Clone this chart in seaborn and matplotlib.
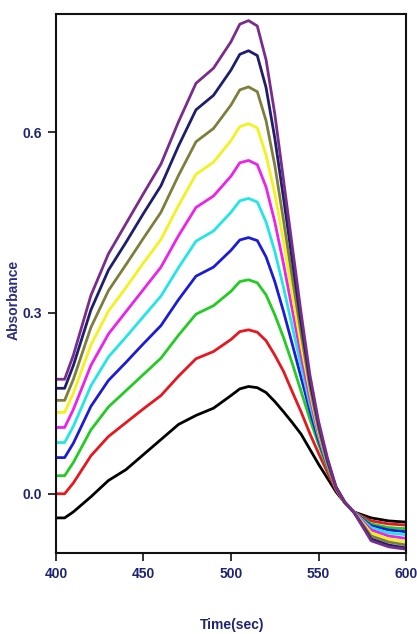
import numpy as np
import pandas as pd
import matplotlib
matplotlib.use("Agg")
import matplotlib.pyplot as plt
import seaborn as sns

time = [400, 405, 410, 420, 430, 440, 450, 460, 470, 480, 490, 500, 505, 510, 515,
        520, 525, 530, 535, 540, 545, 550, 555, 560, 565, 570, 580, 590, 600]

black = [-0.04, -0.04, -0.03, -0.005, 0.022, 0.04, 0.065, 0.09, 0.115, 0.13, 0.142, 0.163, 0.174, 0.178, 0.176,
         0.168, 0.153, 0.136, 0.118, 0.099, 0.074, 0.049, 0.026, 0.003, -0.015, -0.03, -0.04, -0.045, -0.047]
red = [0.0, 0.0, 0.018, 0.063, 0.095, 0.118, 0.141, 0.163, 0.195, 0.224, 0.236, 0.256, 0.269, 0.272, 0.268,
       0.254, 0.230, 0.203, 0.169, 0.136, 0.100, 0.067, 0.036, 0.006, -0.015, -0.03, -0.045, -0.05, -0.052]
green = [0.03, 0.03, 0.052, 0.106, 0.144, 0.171, 0.198, 0.225, 0.263, 0.298, 0.312, 0.336, 0.352, 0.355, 0.350,
         0.330, 0.297, 0.259, 0.216, 0.170, 0.124, 0.082, 0.043, 0.009, -0.015, -0.03, -0.05, -0.056, -0.058]
blue = [0.06, 0.06, 0.084, 0.145, 0.188, 0.218, 0.249, 0.279, 0.322, 0.361, 0.376, 0.404, 0.421, 0.425, 0.420,
        0.393, 0.352, 0.302, 0.248, 0.193, 0.138, 0.088, 0.047, 0.011, -0.014, -0.03, -0.053, -0.06, -0.063]
cyan = [0.085, 0.085, 0.112, 0.179, 0.227, 0.260, 0.294, 0.328, 0.375, 0.419, 0.436, 0.467, 0.486, 0.49, 0.484,
        0.451, 0.402, 0.342, 0.277, 0.212, 0.149, 0.095, 0.048, 0.009, -0.014, -0.03, -0.056, -0.065, -0.068]
magenta = [0.11, 0.11, 0.140, 0.213, 0.265, 0.302, 0.339, 0.376, 0.428, 0.475, 0.494, 0.527, 0.549, 0.553, 0.546,
           0.509, 0.451, 0.381, 0.305, 0.229, 0.159, 0.098, 0.049, 0.008, -0.015, -0.03, -0.06, -0.07, -0.074]
yellow = [0.135, 0.135, 0.167, 0.247, 0.303, 0.342, 0.383, 0.422, 0.478, 0.530, 0.550, 0.586, 0.609, 0.614, 0.607,
          0.562, 0.498, 0.418, 0.331, 0.247, 0.170, 0.102, 0.051, 0.009, -0.016, -0.03, -0.065, -0.075, -0.08]
olive = [0.155, 0.155, 0.190, 0.276, 0.337, 0.380, 0.424, 0.467, 0.528, 0.584, 0.606, 0.645, 0.670, 0.675, 0.667,
         0.619, 0.545, 0.453, 0.358, 0.266, 0.178, 0.107, 0.052, 0.009, -0.014, -0.03, -0.07, -0.08, -0.085]
navy = [0.175, 0.175, 0.213, 0.305, 0.371, 0.417, 0.465, 0.511, 0.577, 0.637, 0.661, 0.703, 0.729, 0.735, 0.727,
        0.674, 0.590, 0.490, 0.387, 0.284, 0.188, 0.115, 0.056, 0.010, -0.015, -0.03, -0.075, -0.085, -0.09]
purple = [0.19, 0.19, 0.230, 0.329, 0.398, 0.448, 0.498, 0.547, 0.617, 0.681, 0.706, 0.750, 0.779, 0.785, 0.776,
          0.720, 0.630, 0.520, 0.410, 0.300, 0.198, 0.120, 0.060, 0.011, -0.014, -0.03, -0.078, -0.088, -0.092]

series_names = ["black", "red", "green", "blue", "cyan", "magenta", "yellow", "olive", "navy", "purple"]
series_values = [black, red, green, blue, cyan, magenta, yellow, olive, navy, purple]
series_colors = ["#000000", "#e8161e", "#22cc22", "#1c1cd8", "#22e6e6", "#ec22ec",
                 "#f2f21e", "#7e7e3c", "#1e1e6e", "#7a2c8c"]

x_ticks = [400, 450, 500, 550, 600]
y_ticks = [0.0, 0.3, 0.6]
y_tick_labels = ["0.0", "0.3", "0.6"]

rows = []
for name, vals in zip(series_names, series_values):
    for t, v in zip(time, vals):
        rows.append({"Time": t, "Absorbance": v, "series": name})
df = pd.DataFrame(rows)

sns.set_style("ticks")
plt.rcParams["font.family"] = ["Liberation Sans", "DejaVu Sans"]

fig = plt.figure(figsize=(4.17, 6.34), dpi=100)
ax = fig.add_axes([0.134, 0.128, 0.840, 0.850])

sns.lineplot(data=df, x="Time", y="Absorbance", hue="series", hue_order=series_names,
             palette=dict(zip(series_names, series_colors)), linewidth=2.0,
             legend=False, ax=ax, sort=False)

ax.set_xlim(400, 600)
ax.set_ylim(-0.098, 0.796)
ax.set_xticks(x_ticks)
ax.set_yticks(y_ticks)
ax.set_yticklabels(y_tick_labels)

label_color = "#1f2470"
for lab in ax.get_xticklabels() + ax.get_yticklabels():
    lab.set_fontweight("bold")
    lab.set_color(label_color)
    lab.set_fontsize(10)

ax.set_xlabel("Time(sec)", fontsize=10, fontweight="bold", color=label_color)
ax.xaxis.set_label_coords(0.503, -0.12)
ax.set_ylabel("Absorbance", fontsize=10, fontweight="bold", color="#2e2e80")
ax.yaxis.set_label_coords(-0.10, 0.47)

for s in ax.spines.values():
    s.set_linewidth(1.5)
    s.set_color("#111111")
ax.tick_params(axis="both", direction="out", length=6, width=1.3, color="#222222", pad=4)

fig.savefig("out.png", dpi=100)
